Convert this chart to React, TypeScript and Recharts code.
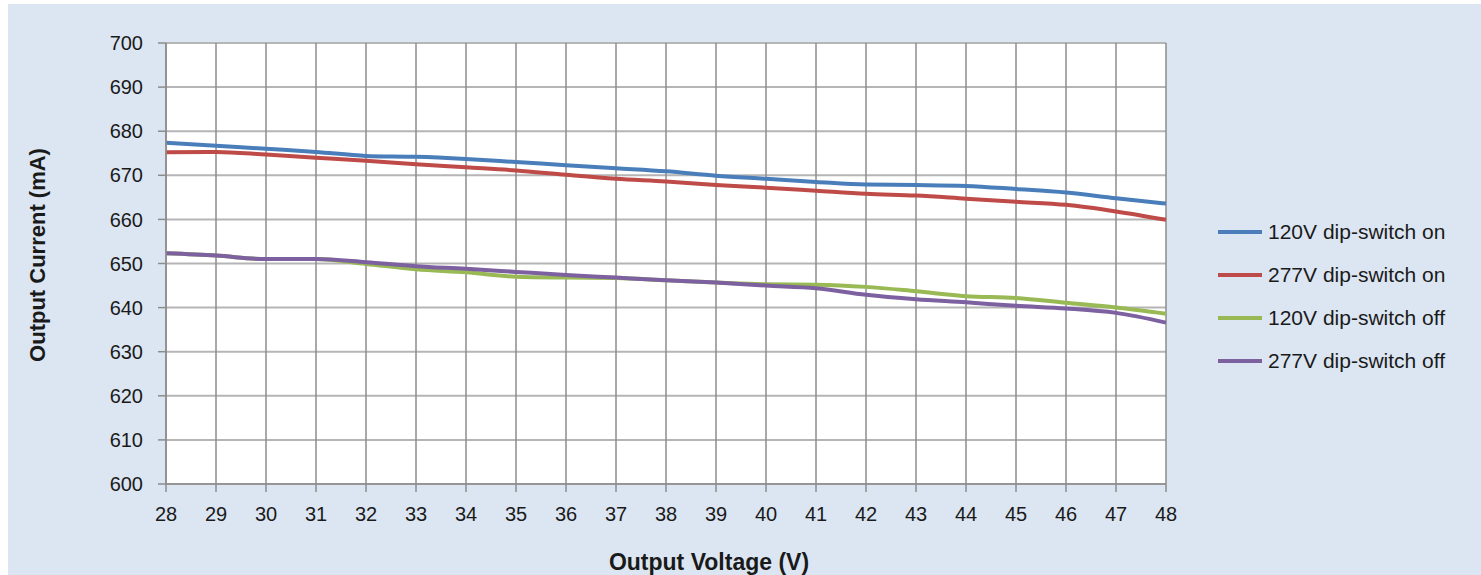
import { CartesianGrid, Label, Line, LineChart, XAxis, YAxis } from "recharts";

// output voltage (V) on the x axis
const voltage = [28, 29, 30, 31, 32, 33, 34, 35, 36, 37, 38, 39, 40, 41, 42, 43, 44, 45, 46, 47, 48];

// output current (mA) per series
const on120 = [677.4, 676.7, 676.0, 675.3, 674.4, 674.2, 673.7, 673.0, 672.3, 671.6, 670.9, 669.9, 669.2, 668.5, 667.9, 667.8, 667.6, 666.9, 666.1, 664.8, 663.6];
const on277 = [675.2, 675.3, 674.7, 674.0, 673.3, 672.5, 671.8, 671.1, 670.1, 669.2, 668.6, 667.8, 667.2, 666.5, 665.8, 665.4, 664.7, 664.0, 663.3, 661.8, 659.9];
const off120 = [652.3, 651.8, 651.0, 651.0, 649.9, 648.7, 648.0, 647.0, 646.8, 646.7, 646.2, 645.7, 645.3, 645.2, 644.7, 643.7, 642.6, 642.2, 641.1, 640.0, 638.6];
const off277 = [652.3, 651.8, 651.0, 651.0, 650.3, 649.4, 648.8, 648.1, 647.4, 646.8, 646.2, 645.7, 645.0, 644.4, 642.9, 641.9, 641.2, 640.4, 639.8, 638.8, 636.6];

const yTicks = [600, 610, 620, 630, 640, 650, 660, 670, 680, 690, 700];

const series = [
  { key: "on120", name: "120V dip-switch on", color: "#4a7ebb", values: on120 },
  { key: "on277", name: "277V dip-switch on", color: "#be4b48", values: on277 },
  { key: "off120", name: "120V dip-switch off", color: "#98b954", values: off120 },
  { key: "off277", name: "277V dip-switch off", color: "#7d60a0", values: off277 },
];

const data = voltage.map((v, i) => {
  const row: Record<string, number> = { v };
  series.forEach((s) => {
    row[s.key] = s.values[i];
  });
  return row;
});

const FONT = "'Liberation Sans', Arial, sans-serif";
const tickStyle = { fontSize: 20, fill: "#1a1a1a", fontFamily: FONT };

export default function App() {
  return (
    <>
      <style>{"body{margin:0;overflow:hidden;background:#fff}"}</style>
      <div
        style={{
          position: "absolute",
          left: 8,
          top: 4,
          width: 1473,
          height: 571,
          background: "#dce6f2",
          fontFamily: FONT,
        }}
      >
        <LineChart
          width={1473}
          height={571}
          data={data}
          margin={{ top: 39, right: 315, left: 0, bottom: 41 }}
        >
          <CartesianGrid vertical={false} stroke="#b5b5b5" strokeWidth={2} fill="#ffffff" />
          <CartesianGrid horizontal={false} stroke="#8c8c8c" strokeWidth={1.5} />
          <XAxis
            dataKey="v"
            type="number"
            domain={[28, 48]}
            ticks={voltage}
            height={50}
            tickSize={8}
            tickMargin={15}
            stroke="#8c8c8c"
            strokeWidth={1.5}
            tick={tickStyle}
          >
            <Label
              content={() => (
                <text
                  x={701}
                  y={566}
                  textAnchor="middle"
                  fontSize={23}
                  fontWeight="bold"
                  fontFamily={FONT}
                  fill="#1a1a1a"
                >
                  Output Voltage (V)
                </text>
              )}
            />
          </XAxis>
          <YAxis
            type="number"
            domain={[600, 700]}
            ticks={yTicks}
            width={158}
            tickSize={8}
            tickMargin={15}
            stroke="#8c8c8c"
            strokeWidth={1.5}
            tick={tickStyle}
          >
            <Label
              content={() => (
                <text
                  x={31}
                  y={251}
                  textAnchor="middle"
                  dominantBaseline="middle"
                  transform="rotate(-90 31 251)"
                  fontSize={22}
                  fontWeight="bold"
                  fontFamily={FONT}
                  fill="#1a1a1a"
                >
                  Output Current (mA)
                </text>
              )}
            />
          </YAxis>
          {series.map((s) => (
            <Line
              key={s.key}
              dataKey={s.key}
              name={s.name}
              type="monotone"
              stroke={s.color}
              strokeWidth={4}
              dot={false}
              isAnimationActive={false}
            />
          ))}
        </LineChart>
        <div style={{ position: "absolute", left: 1210, top: 206 }}>
          {series.map((s) => (
            <div
              key={s.key}
              style={{ display: "flex", alignItems: "center", height: 43 }}
            >
              <div style={{ width: 44, height: 4, background: s.color, marginRight: 6 }} />
              <span style={{ fontSize: 21, color: "#1a1a1a", whiteSpace: "nowrap" }}>{s.name}</span>
            </div>
          ))}
        </div>
      </div>
    </>
  );
}
